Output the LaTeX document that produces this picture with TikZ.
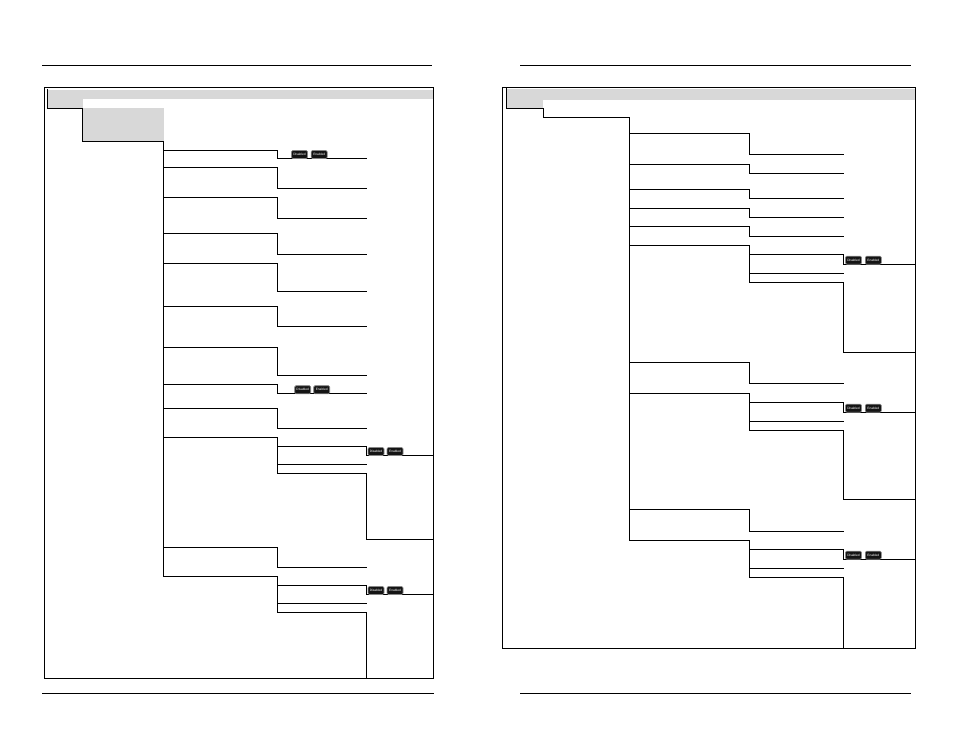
\documentclass[tikz,border=0pt]{standalone}
\usepackage{tikz}
\usepackage{xcolor}
\usepackage{fontspec}
\setmainfont{Liberation Sans}
\usetikzlibrary{calc,positioning}
\definecolor{menuGrey}{RGB}{216,216,216}
\definecolor{chipDark}{RGB}{20,20,20}
\definecolor{chipEdge}{RGB}{135,135,135}
\tikzset{
  menuline/.style={line width=1pt,line cap=rect},
  frameline/.style={line width=1pt},
  switchchip/.style={
    fill=chipDark,
    draw=chipEdge,
    rounded corners=1.2pt,
    minimum width=16pt,
    minimum height=8pt,
    inner sep=0pt,
    line width=0.6pt,
    font=\fontsize{3.2pt}{3.2pt}\selectfont\color{white}
  }
}
% pair of buttons sitting on a branch line
\newcommand{\chippair}[4]{%
  \node[switchchip] (#1dis) at (#2,#4) {Disabled};
  \node[switchchip] (#1en) at (#3,#4) {Enabled};
}

\begin{document}
\begin{tikzpicture}[x=1pt,y=-1pt]
  \useasboundingbox (0,0) rectangle (954,737);
  % page rules
  \coordinate (ltopa) at (42,65.5);
  \coordinate (ltopb) at (432,65.5);
  \coordinate (lbota) at (42,693.5);
  \coordinate (lbotb) at (433.5,693.5);
  \coordinate (rtopa) at (520,65.5);
  \coordinate (rtopb) at (911,65.5);
  \coordinate (rbota) at (520,693.5);
  \coordinate (rbotb) at (911,693.5);
  \draw[frameline] (ltopa)--(ltopb);
  \draw[frameline] (lbota)--(lbotb);
  \draw[frameline] (rtopa)--(rtopb);
  \draw[frameline] (rbota)--(rbotb);

  %%% left page
  \fill[menuGrey] (47,90) rectangle (433,99);
  \fill[menuGrey] (47,99) rectangle (83,108);
  \fill[menuGrey] (83,108) rectangle (164,141);
  \draw[frameline] (44.5,87) rectangle (433.5,678.5);
  \coordinate (la) at (47.5,89);
  \coordinate (lb) at (47.5,108);
  \coordinate (lc) at (82.5,108);
  \coordinate (ld) at (82.5,141);
  \coordinate (le) at (163.5,141);
  \coordinate (lf) at (163.5,576);
  \draw[menuline] (la)--(lb)--(lc)--(ld)--(le)--(lf);

  % plain branches: from the trunk, across, down, across
  \foreach \ya/\yb in {150/158,167/188,197/218,233/254,263/291,306/326,347/375,384/393,408/428,547/567}{
    \coordinate (ls\ya) at (163.5,\ya);
    \coordinate (lk\ya) at (277.5,\ya);
    \coordinate (lj\ya) at (277.5,\yb);
    \coordinate (lt\ya) at (366.5,\yb);
    \draw[menuline] (ls\ya)--(lk\ya)--(lj\ya)--(lt\ya);
  }
  % branches with buttons and a sub list
  \foreach \ya in {437,576}{
    \coordinate (ls\ya) at (163.5,\ya);
    \coordinate (lk\ya) at (277.5,\ya);
    \coordinate (lu\ya) at (277.5,\ya+9);
    \coordinate (lv\ya) at (366.5,\ya+9);
    \coordinate (lw\ya) at (366.5,\ya+18);
    \coordinate (lx\ya) at (433.5,\ya+18);
    \coordinate (lm\ya) at (277.5,\ya+27);
    \coordinate (ln\ya) at (366.5,\ya+27);
    \coordinate (lo\ya) at (277.5,\ya+36);
    \coordinate (lp\ya) at (366.5,\ya+36);
    \draw[menuline] (ls\ya)--(lk\ya)--(lo\ya)--(lp\ya);
    \draw[menuline] (lu\ya)--(lv\ya)--(lw\ya)--(lx\ya);
    \draw[menuline] (lm\ya)--(ln\ya);
  }
  \coordinate (lq) at (366.5,539);
  \coordinate (lr) at (433.5,539);
  \draw[menuline] (lp437)--(lq)--(lr);
  \coordinate (lz) at (366.5,678.5);
  \draw[menuline] (lp576)--(lz);

  \chippair{la}{299.5}{319.2}{154.5}
  \chippair{lb}{302.7}{321.7}{389.7}
  \chippair{lc}{376}{395}{451.5}
  \chippair{ld}{376}{395}{590.5}

  %%% right page
  \fill[menuGrey] (506,89) rectangle (915,100);
  \fill[menuGrey] (506,100) rectangle (543,108);
  \draw[frameline] (502.5,87) rectangle (915,648.5);
  \coordinate (ra) at (506.5,88);
  \coordinate (rb) at (506.5,108);
  \coordinate (rc) at (543.5,108);
  \coordinate (rd) at (543.5,117.5);
  \coordinate (re) at (629.5,117.5);
  \coordinate (rf) at (629.5,540);
  \draw[menuline] (ra)--(rb)--(rc)--(rd)--(re)--(rf);

  \foreach \ya/\yb in {133/154.5,164/173.5,189/198.5,208/217.5,226/236,362/383,509/531}{
    \coordinate (rs\ya) at (629.5,\ya);
    \coordinate (rk\ya) at (749.5,\ya);
    \coordinate (rj\ya) at (749.5,\yb);
    \coordinate (rt\ya) at (843.5,\yb);
    \draw[menuline] (rs\ya)--(rk\ya)--(rj\ya)--(rt\ya);
  }
  \foreach \ya/\yz in {245/352.5,393/499.5,540/648}{
    \coordinate (rs\ya) at (629.5,\ya);
    \coordinate (rk\ya) at (749.5,\ya);
    \coordinate (ru\ya) at (749.5,\ya+9.5);
    \coordinate (rv\ya) at (843.5,\ya+9.5);
    \coordinate (rw\ya) at (843.5,\ya+19.3);
    \coordinate (rx\ya) at (915,\ya+19.3);
    \coordinate (rm\ya) at (749.5,\ya+28);
    \coordinate (rn\ya) at (843.5,\ya+28);
    \coordinate (ro\ya) at (749.5,\ya+37.5);
    \coordinate (rp\ya) at (843.5,\ya+37.5);
    \coordinate (rq\ya) at (843.5,\yz);
    \coordinate (rr\ya) at (915,\yz);
    \draw[menuline] (rs\ya)--(rk\ya)--(ro\ya)--(rp\ya)--(rq\ya)--(rr\ya);
    \draw[menuline] (ru\ya)--(rv\ya)--(rw\ya)--(rx\ya);
    \draw[menuline] (rm\ya)--(rn\ya);
  }

  \chippair{ra}{853.5}{873.3}{260.2}
  \chippair{rb}{853.5}{873.3}{408.2}
  \chippair{rc}{853.5}{873.3}{555.2}
\end{tikzpicture}
\end{document}
